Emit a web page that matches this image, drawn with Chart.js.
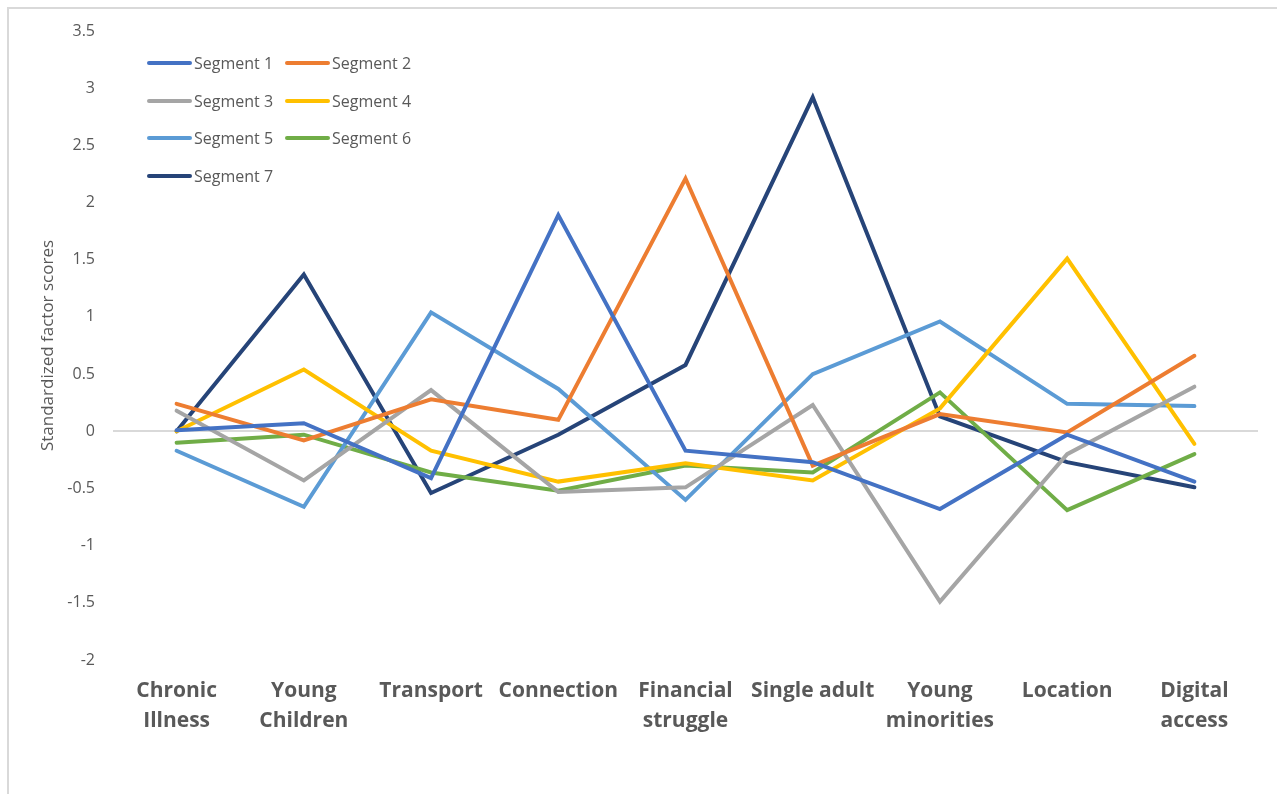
<!DOCTYPE html>
<html>
<head>
<meta charset="utf-8">
<script src="https://cdn.jsdelivr.net/npm/chart.js@4.4.0/dist/chart.umd.min.js"></script>
<style>
  html, body { margin: 0; padding: 0; background: #fff; }
  #wrap { position: relative; width: 1277px; height: 794px; overflow: hidden; }
  #frame { position: absolute; left: 7px; top: 7px; width: 1300px; height: 820px;
    border-left: 2px solid #d9d9d9; border-top: 2px solid #d9d9d9; }
  #c { position: absolute; left: 0; top: 0; }
  #legend { position: absolute; left: 147px; top: 44px; display: grid;
    grid-template-columns: 138px 138px; row-gap: 0; font: 16px "Open Sans", sans-serif; color: #595959; }
  .li { display: flex; align-items: center; height: 37.7px; white-space: nowrap; }
  .sw { width: 45px; height: 4px; border-radius: 2px; margin-right: 2px; }
</style>
</head>
<body>
<div id="wrap">
  <div id="frame"></div>
  <canvas id="c" width="1277" height="794"></canvas>
  <div id="legend"></div>
</div>
<script>
// categories (x axis)
const categories = [
  ["Chronic", "Illness"], ["Young", "Children"], "Transport", "Connection",
  ["Financial", "struggle"], "Single adult", ["Young", "minorities"], "Location", ["Digital", "access"]
];
const seriesNames = ["Segment 1", "Segment 2", "Segment 3", "Segment 4", "Segment 5", "Segment 6", "Segment 7"];
const seriesColors = ["#4472C4", "#ED7D31", "#A5A5A5", "#FFC000", "#5B9BD5", "#70AD47", "#264478"];

// standardized factor scores per segment
const segment1 = [0.01, 0.07, -0.41, 1.89, -0.17, -0.27, -0.68, -0.03, -0.44];
const segment2 = [0.24, -0.08, 0.28, 0.10, 2.21, -0.30, 0.15, -0.01, 0.66];
const segment3 = [0.18, -0.43, 0.36, -0.53, -0.49, 0.23, -1.49, -0.20, 0.39];
const segment4 = [0.00, 0.54, -0.17, -0.44, -0.28, -0.43, 0.20, 1.51, -0.11];
const segment5 = [-0.17, -0.66, 1.04, 0.37, -0.60, 0.50, 0.96, 0.24, 0.22];
const segment6 = [-0.10, -0.03, -0.36, -0.52, -0.30, -0.36, 0.34, -0.69, -0.20];
const segment7 = [0.00, 1.37, -0.54, -0.03, 0.58, 2.92, 0.13, -0.27, -0.49];
const seriesValues = [segment1, segment2, segment3, segment4, segment5, segment6, segment7];

const yMin = -2, yMax = 3.5, yStep = 0.5;
const grey = "#595959";

const datasets = seriesNames.map((name, i) => ({
  label: name, data: seriesValues[i], borderColor: seriesColors[i], backgroundColor: seriesColors[i],
  borderWidth: 4, pointRadius: 0, tension: 0, fill: false, borderJoinStyle: "miter", borderCapStyle: "round"
}));

new Chart(document.getElementById("c"), {
  type: "line",
  data: { labels: categories, datasets },
  options: {
    responsive: false, animation: false,
    layout: { padding: { top: 31, right: 19, left: 0, bottom: 0 } },
    plugins: { legend: { display: false }, tooltip: { enabled: false } },
    scales: {
      x: {
        offset: true,
        grid: { display: false, drawTicks: false }, border: { display: false },
        ticks: { color: grey, padding: 16, maxRotation: 0, autoSkip: false,
          font: { family: "Open Sans", size: 21, weight: "bold", lineHeight: 1.43 } },
        afterFit: (s) => { s.height = 134; }
      },
      y: {
        min: yMin, max: yMax,
        grid: { drawTicks: false, lineWidth: 2,
          color: (ctx) => ctx.tick && ctx.tick.value === 0 ? "#d9d9d9" : "rgba(0,0,0,0)" },
        border: { display: false },
        ticks: { stepSize: yStep, color: grey, padding: 18, font: { family: "Open Sans", size: 16 },
          callback: (v) => String(v) },
        title: { display: true, text: "Standardized factor scores", color: grey,
          padding: { top: 38 }, font: { family: "Open Sans", size: 17 } },
        afterFit: (s) => { s.width = 113; }
      }
    }
  }
});

// legend in two columns, like the source
document.getElementById("legend").innerHTML = seriesNames.map((n, i) =>
  `<div class="li"><span class="sw" style="background:${seriesColors[i]}"></span>${n}</div>`).join("");
</script>
</body>
</html>
